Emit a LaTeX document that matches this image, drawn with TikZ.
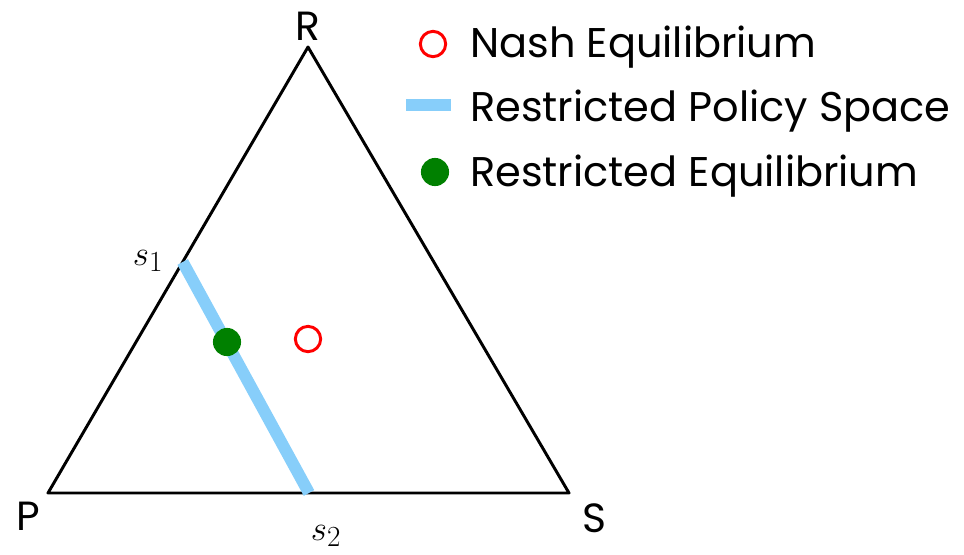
\documentclass[tikz,border=0pt]{standalone}
\usepackage{fontspec}
\setmainfont{Poppins}
\usepackage{tikz}
\usetikzlibrary{positioning,calc}
\definecolor{nashred}{HTML}{FF0000}
\definecolor{policyblue}{HTML}{87CEFA}
\definecolor{eqgreen}{HTML}{008000}
\tikzset{
    every picture/.style={line cap=round,line join=round},
    simplex/.style={draw=black,line width=2.1pt},
    policyline/.style={draw=policyblue,line width=8.5pt,line cap=butt},
    nashmark/.style={circle,draw=nashred,line width=2.1pt,fill=white,
      minimum size=18pt,inner sep=0pt},
    eqmark/.style={circle,fill=eqgreen,minimum size=20pt,inner sep=0pt},
    vertexlabel/.style={font=\fontsize{29}{34}\selectfont,inner sep=0pt},
    sidelabel/.style={font=\fontsize{32}{36}\selectfont,inner sep=0pt},
    legendtext/.style={font=\fontsize{29.5}{34}\selectfont,inner sep=0pt,anchor=base west}
}
\begin{document}
\begin{tikzpicture}[x=0.025cm,y=-0.025cm]
  \useasboundingbox (0,0) rectangle (964,554);
  % simplex corners
  \coordinate (P) at (48,493);
  \coordinate (S) at (569,493);
  \coordinate (R) at (308,47);
  \draw[simplex] (P)--(S)--(R)--cycle;
  \node[vertexlabel] (lR) at (308,26) {R};
  \node[vertexlabel] (lP) at (28,516) {P};
  \node[vertexlabel] (lS) at (594,518) {S};
  % restricted policy space
  \coordinate (s1) at ($(P)!0.518!(R)$);
  \coordinate (s2) at (309,493);
  \draw[policyline] (s1)--(s2);
  \node[sidelabel] (ls1) at (148,261) {$s_1$};
  \node[sidelabel] (ls2) at (326,536) {$s_2$};
  \node[eqmark] (req) at (227,342) {};
  \node[nashmark] (ne) at (308,339) {};
  % legend
  \node[nashmark] (kNE) at (433,44) {};
  \node[legendtext] (tNE) at (470,57) {Nash Equilibrium};
  \coordinate (kRPa) at (406,105);
  \coordinate (kRPb) at (451,105);
  \draw[policyline] (kRPa)--(kRPb);
  \node[legendtext] (tRP) at (470,121) {Restricted Policy Space};
  \node[eqmark] (kRE) at (435,172) {};
  \node[legendtext] (tRE) at (470,186) {Restricted Equilibrium};
\end{tikzpicture}
\end{document}
